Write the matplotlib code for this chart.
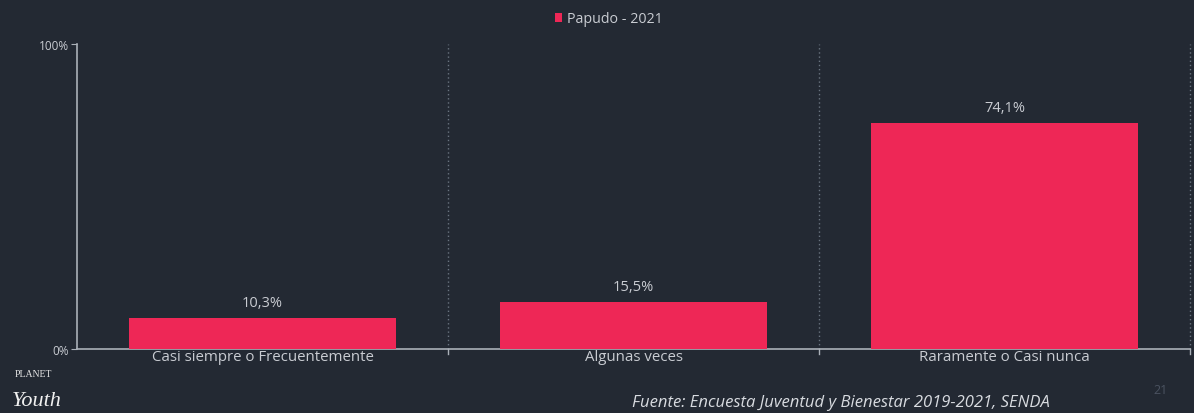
import matplotlib
matplotlib.use("Agg")
import matplotlib.pyplot as plt
import numpy as np

categories = ["Casi siempre o Frecuentemente", "Algunas veces", "Raramente o Casi nunca"]
values = [10.3, 15.5, 74.1]
series_name = "Papudo - 2021"
ytick_vals = [0, 100]
ytick_labels = ["0%", "100%"]

BG = "#232933"
BAR = "#ee2756"
TXT = "#c9ccd2"
LINE = "#aab0b8"

plt.rcParams['font.family'] = ['Open Sans', 'DejaVu Sans']

fig = plt.figure(figsize=(11.94, 4.14), dpi=100, facecolor=BG)
ax = fig.add_axes([0.0645, 0.1546, 0.9322, 0.7367], facecolor=BG)

x = np.arange(len(categories))
bars = ax.bar(x, values, width=0.72, color=BAR, label=series_name, zorder=3)
for xi, v in zip(x, values):
    ax.text(xi, v + 2.5, f"{v:.1f}%".replace(".", ","), ha="center", va="bottom",
            color=TXT, fontsize=10.5)

ax.set_xlim(-0.5, len(categories) - 0.5)
ax.set_ylim(0, 100)
ax.set_yticks(ytick_vals)
ax.set_yticklabels(ytick_labels, color=TXT, fontsize=8.5)
ax.set_xticks(x)
ax.set_xticklabels(categories, color=TXT, fontsize=10.8)
ax.tick_params(axis="x", length=0, pad=0)
ax.tick_params(axis="y", length=4, color=LINE, pad=2)

# category boundary ticks & dotted gridlines
bounds = np.arange(0.5, len(categories) + 0.5, 1.0)
for b in bounds:
    ax.axvline(b, color="#6a7480", lw=1, ls=(0, (1, 2)), zorder=1, clip_on=False)
    ax.plot([b, b], [0, -1.8], color=LINE, lw=1, clip_on=False, zorder=4)

for s in ["top", "right"]:
    ax.spines[s].set_visible(False)
ax.spines["left"].set_color(LINE)
ax.spines["bottom"].set_color(LINE)
ax.spines["left"].set_linewidth(1.2)
ax.spines["bottom"].set_linewidth(1.2)

leg = fig.legend(handles=[bars], labels=[series_name], loc="center",
                 bbox_to_anchor=(0.51, 0.952), frameon=False, fontsize=10.3,
                 handlelength=0.45, handleheight=0.6, handletextpad=0.35)
for t in leg.get_texts():
    t.set_color(TXT)

fig.text(0.879, 0.008, "Fuente: Encuesta Juventud y Bienestar 2019-2021, SENDA",
         ha="right", va="bottom", color="#d8dbe0", fontsize=12, style="italic")
fig.text(0.012, 0.085, "PLANET", ha="left", va="bottom", color="#e6e6e6",
         fontsize=7, family=["Liberation Serif", "DejaVu Serif"])
fig.text(0.010, 0.008, "Youth", ha="left", va="bottom", color="#f0f0f0",
         fontsize=16, style="italic", family=["Liberation Serif", "DejaVu Serif"])
fig.text(0.972, 0.04, "21", ha="center", va="bottom", color="#4a5260", fontsize=9)

fig.savefig("out.png", dpi=100, facecolor=BG)
